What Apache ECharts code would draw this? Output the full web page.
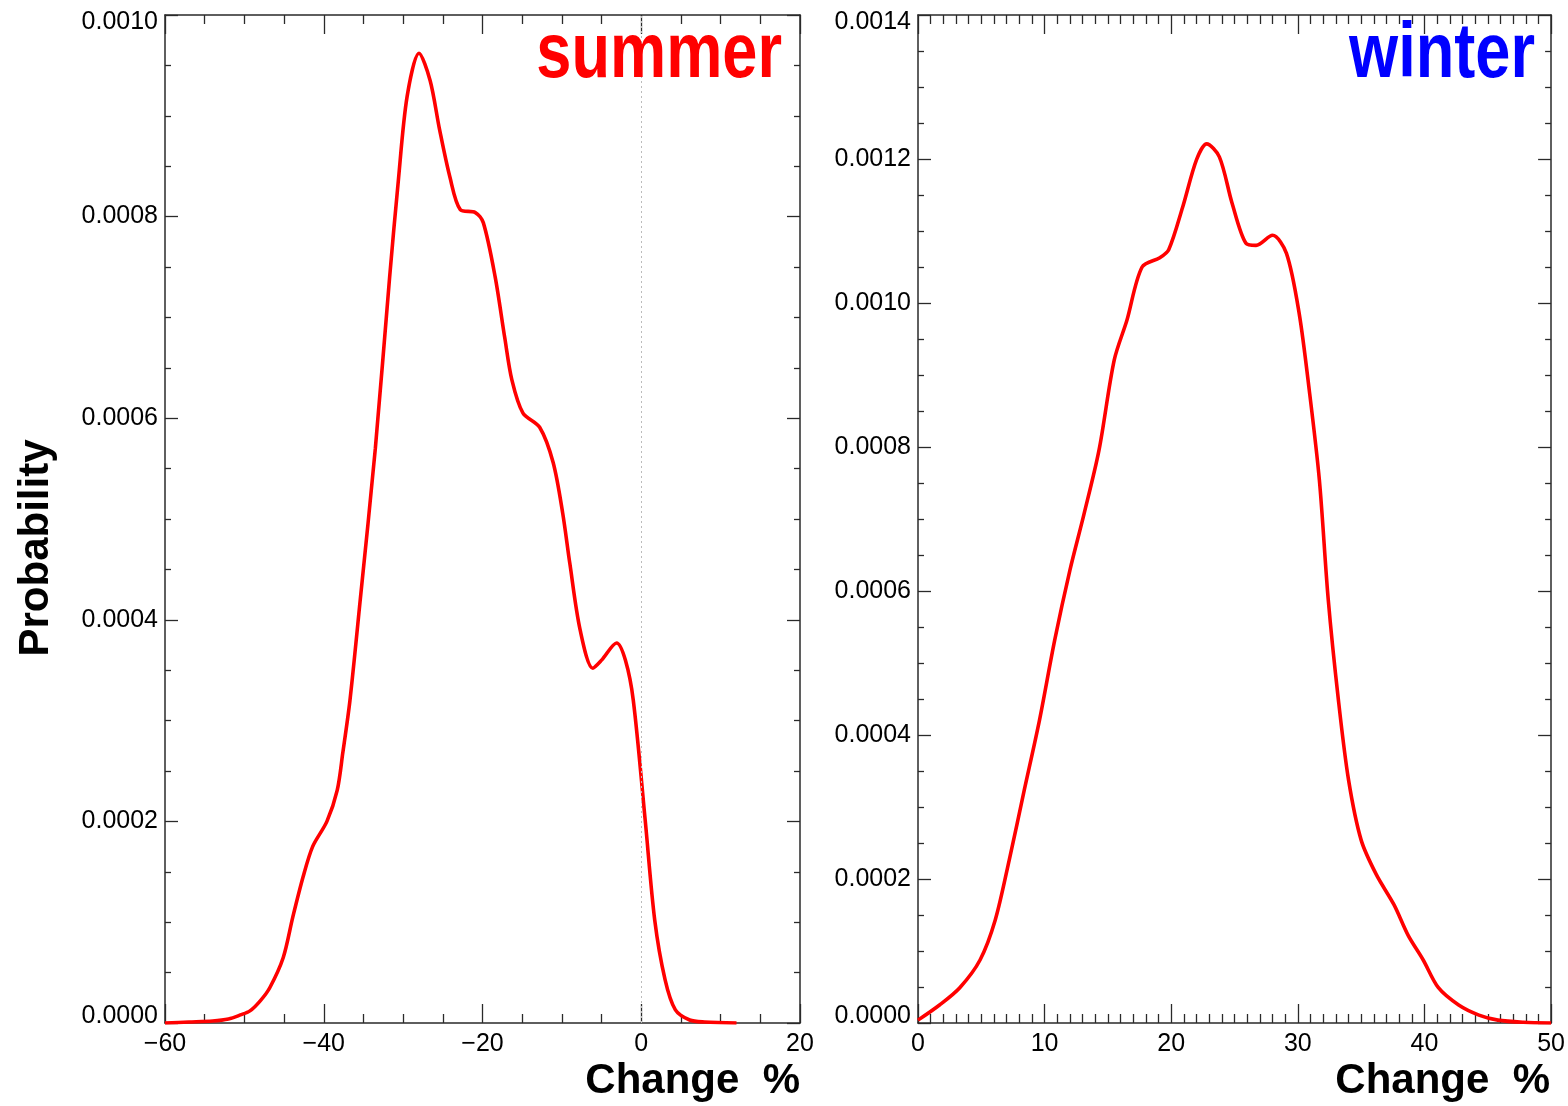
<!DOCTYPE html>
<html>
<head>
<meta charset="utf-8">
<script src="https://cdn.jsdelivr.net/npm/echarts@6/dist/echarts.min.js"></script>
<style>
html,body{margin:0;padding:0;background:#fff;}
#chart{width:1568px;height:1106px;}
</style>
</head>
<body>
<div id="chart"></div>
<script>
// ---- data ----
const summerX = [-60,-57,-54,-52,-50.5,-49.3,-48,-46.8,-45.1,-43.9,-42.6,-41.4,-39.6,-38.3,-37.6,-36.7,-35.4,-33.5,-31.7,-30.6,-29.5,-28.0,-26.6,-25.4,-24.1,-22.8,-20.9,-19.9,-18.4,-17.2,-16.3,-14.9,-12.8,-11.1,-9.9,-9.0,-7.7,-6.1,-5.0,-3.1,-2.0,-1.0,0.5,1.7,3.0,4.3,6.1,8,12];
const summerY = [0,0.000001,0.000002,0.000004,0.000008,0.000012,0.000022,0.000035,0.000065,0.000105,0.000145,0.000175,0.000200,0.000231,0.000268,0.00032,0.00042,0.00057,0.00074,0.000836,0.000919,0.000962,0.000935,0.000886,0.000839,0.000807,0.000804,0.000794,0.00074,0.00068,0.000638,0.000605,0.000591,0.000556,0.000506,0.000456,0.00039,0.000352,0.00036,0.000377,0.00036,0.00032,0.000201,0.000102,0.000043,0.000013,0.000003,0.000001,0];
const winterX = [0,1.7,3.3,4.9,6.1,7.2,8.4,9.6,10.8,12.0,13.1,14.3,15.5,16.5,17.7,19.1,19.8,20.9,22.0,22.8,23.8,24.8,25.9,26.7,28.0,29.1,30.1,30.9,31.7,32.4,33.2,34.0,35.0,36.2,37.6,38.7,39.9,41.1,42.7,44.3,45.8,47.8,50];
const winterY = [0.000004,0.000025,0.000049,0.0000875,0.000143,0.000226,0.000324,0.000421,0.000532,0.000629,0.000706,0.000796,0.000921,0.000976,0.00105,0.001063,0.001074,0.001133,0.001199,0.001221,0.001203,0.001139,0.001083,0.00108,0.001094,0.001069,0.000986,0.000879,0.000754,0.000588,0.000449,0.000338,0.000254,0.000206,0.000164,0.000122,0.0000875,0.000049,0.000025,0.000011,0.000004,0.000001,0];
const summerXTicks = {min:-60, max:20, interval:20, minor:4};
const winterXTicks = {min:0, max:50, interval:10, minor:10};
const summerYTicks = {min:0, max:0.0010, interval:0.0002, minor:4};
const winterYTicks = {min:0, max:0.0014, interval:0.0002, minor:4};
const titles = ['summer','winter'];
const xName = 'Change  %';
const yName = 'Probability';

// ---- chart ----
const chart = echarts.init(document.getElementById('chart'), null, {renderer:'canvas'});
const AX = '#2a2a2a';
const FONT = 'Liberation Sans, Arial, sans-serif';
const labelFont = {fontFamily:FONT, fontSize:25, color:'#000'};
const minusFmt = v => (v < 0 ? '\u2212' + Math.abs(v) : String(v));

function xAxes(gi, t){
  const base = {gridIndex:gi, type:'value', min:t.min, max:t.max, interval:t.interval,
    axisLine:{show:true, onZero:false, lineStyle:{color:AX, width:1.5}},
    axisTick:{show:true, inside:true, length:19, lineStyle:{color:AX, width:1.3}},
    minorTick:{show:true, splitNumber:t.minor, length:9, lineStyle:{color:AX, width:1.3}},
    splitLine:{show:false}, minorSplitLine:{show:false}};
  return [
    Object.assign({}, base, {position:'bottom', axisLabel:Object.assign({show:true, margin:9, formatter:minusFmt, showMinLabel:true, showMaxLabel:true}, labelFont)}),
    Object.assign({}, base, {position:'top', axisLabel:{show:false}})
  ];
}
function yAxes(gi, t){
  const base = {gridIndex:gi, type:'value', min:t.min, max:t.max, interval:t.interval,
    axisLine:{show:true, onZero:false, lineStyle:{color:AX, width:1.5}},
    axisTick:{show:true, inside:true, length:13, lineStyle:{color:AX, width:1.3}},
    minorTick:{show:true, splitNumber:t.minor, length:6, lineStyle:{color:AX, width:1.3}},
    splitLine:{show:false}, minorSplitLine:{show:false}};
  const fmt = v => {
    const s = v.toFixed(4);
    if (Math.abs(v - t.max) < 1e-12) return '{hi|' + s + '}';
    if (Math.abs(v - t.min) < 1e-12) return '{lo|' + s + '}';
    return s;
  };
  const rich = {
    hi:{fontFamily:FONT, fontSize:25, color:'#000', padding:[14,0,0,0]},
    lo:{fontFamily:FONT, fontSize:25, color:'#000', padding:[0,0,14,0]}
  };
  return [
    Object.assign({}, base, {position:'left', axisLabel:Object.assign({show:true, margin:7, formatter:fmt, rich:rich, showMinLabel:true, showMaxLabel:true}, labelFont)}),
    Object.assign({}, base, {position:'right', axisLabel:{show:false}})
  ];
}

const titleFont = 'bold 77px "Liberation Sans", Arial, sans-serif';
const nameFont = 'bold 42px "Liberation Sans", Arial, sans-serif';

const option = {
  backgroundColor:'#fff',
  animation:false,
  grid:[
    {left:165, width:635, top:15, height:1008},
    {left:918, width:635, top:15, height:1008}
  ],
  xAxis:[...xAxes(0, summerXTicks), ...xAxes(1, winterXTicks)],
  yAxis:[...yAxes(0, summerYTicks), ...yAxes(1, winterYTicks)],
  series:[
    {type:'line', xAxisIndex:0, yAxisIndex:0, data:summerX.map((x,i)=>[x, summerY[i]]),
     smooth:0.3, showSymbol:false, symbol:'none', lineStyle:{color:'#ff0000', width:3.6}, z:3,
     markLine:{silent:true, symbol:['none','none'], label:{show:false},
       lineStyle:{color:'#bbb', type:[2,3], width:1}, data:[{xAxis:0}]}},
    {type:'line', xAxisIndex:2, yAxisIndex:2, data:winterX.map((x,i)=>[x, winterY[i]]),
     smooth:0.3, showSymbol:false, symbol:'none', lineStyle:{color:'#ff0000', width:3.6}, z:3}
  ],
  graphic:[
    {type:'text', x:782, y:94, scaleX:0.82, z:10, style:{text:titles[0], fill:'#ff0000', font:titleFont, textAlign:'right', textVerticalAlign:'bottom'}},
    {type:'text', x:1535, y:94, scaleX:0.82, z:10, style:{text:titles[1], fill:'#0000ff', font:titleFont, textAlign:'right', textVerticalAlign:'bottom'}},
    {type:'text', x:800, y:1102, style:{text:xName, fill:'#000', font:nameFont, textAlign:'right', textVerticalAlign:'bottom'}},
    {type:'text', x:1550, y:1102, style:{text:xName, fill:'#000', font:nameFont, textAlign:'right', textVerticalAlign:'bottom'}},
    {type:'text', x:36, y:548, rotation:Math.PI/2, style:{text:yName, fill:'#000', font:nameFont, textAlign:'center', textVerticalAlign:'middle'}}
  ]
};
chart.setOption(option);
</script>
</body>
</html>
